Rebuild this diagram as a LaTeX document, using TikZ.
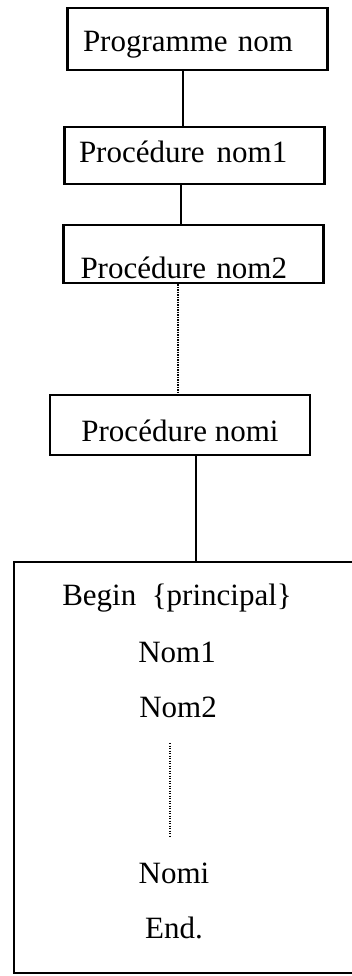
\documentclass[tikz,border=0pt]{standalone}
\usepackage{fontspec}
\setmainfont{Liberation Serif}
\tikzset{
  cadre/.style={draw, line width=2.4pt, inner ysep=0pt, minimum width=260pt},
  lien/.style={line width=2.2pt},
  pointille/.style={line width=2.2pt, dash pattern=on 1.4pt off 1.1pt},
  mot/.style={anchor=base, inner sep=0pt}
}
\begin{document}
\begin{tikzpicture}[x=1pt, y=-1pt, font=\fontsize{31}{37}\selectfont]
\useasboundingbox (0,0) rectangle (352,976);
\clip (0,0) rectangle (352,976);
\node[cadre, minimum height=62pt, inner xsep=15pt, text width=229pt, align=left, text height=33pt, text depth=7pt] (prog) at (197.5,39) {Programme nom};
\node[cadre, minimum height=57pt, inner xsep=14pt, text width=231pt, align=left, text height=26pt, text depth=11pt] (nom1) at (194.5,155.5) {Procédure\hspace{12pt}nom1};
\node[cadre, minimum height=58pt, inner xsep=17pt, text width=226pt, align=left, text height=51pt, text depth=3pt] (nom2) at (193.5,254) {Procédure nom2};
\node[cadre, minimum height=60pt, text height=36pt, text depth=4pt] (nomi) at (180,425) {Procédure nomi};
\node[cadre, minimum width=360pt, minimum height=411pt] (princ) at (194,767.5) {};
\coordinate (c1) at (183,0);
\coordinate (c2) at (181,0);
\coordinate (c3) at (178,0);
\coordinate (c4) at (196,0);
\draw[lien] (prog.south -| c1) -- (nom1.north -| c1);
\draw[lien] (nom1.south -| c2) -- (nom2.north -| c2);
\draw[pointille] (nom2.south -| c3) -- (nomi.north -| c3);
\draw[lien] (nomi.south -| c4) -- (princ.north -| c4);
\node[mot] (debut) at (177,605) {Begin\ \ \{principal\}};
\node[mot] (n1) at (177,662) {Nom1};
\node[mot] (n2) at (178,717) {Nom2};
\node[mot] (ni) at (174,883) {Nomi};
\node[mot] (fin) at (174,938) {End.};
\coordinate (pa) at (170,743);
\coordinate (pb) at (170,837);
\draw[pointille] (pa) -- (pb);
\end{tikzpicture}
\end{document}
